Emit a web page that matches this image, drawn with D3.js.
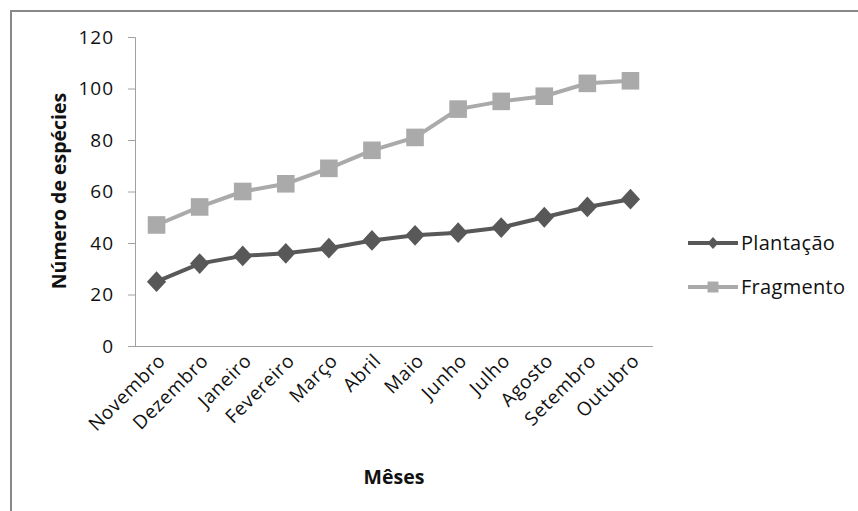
<!DOCTYPE html>
<html>
<head>
<meta charset="utf-8">
<script src="https://cdn.jsdelivr.net/npm/d3@7"></script>
<style>
  body { margin: 0; background: #fff; }
  text { font-family: "Open Sans", sans-serif; fill: #111; }
</style>
</head>
<body>
<div id="chart"></div>
<script>
// months on the category axis
var meses = ["Novembro", "Dezembro", "Janeiro", "Fevereiro", "Março", "Abril",
             "Maio", "Junho", "Julho", "Agosto", "Setembro", "Outubro"];
// number of species per series
var plantacao = [25, 32, 35, 36, 38, 41, 43, 44, 46, 50, 54, 57];
var fragmento = [47, 54, 60, 63, 69, 76, 81, 92, 95, 97, 102, 103];
var yTicks = [0, 20, 40, 60, 80, 100, 120];

var width = 858, height = 511;
var margin = {left: 135, right: 206, top: 37, bottom: 165};

var svg = d3.select("#chart").append("svg")
    .attr("width", width)
    .attr("height", height);

// chart area border (only top and left are inside the picture)
svg.append("rect")
    .attr("x", 11).attr("y", 11)
    .attr("width", 900).attr("height", 600)
    .attr("fill", "none")
    .attr("stroke", "#888")
    .attr("stroke-width", 2);

var x = d3.scaleBand()
    .domain(meses)
    .range([margin.left, width - margin.right]);

var y = d3.scaleLinear()
    .domain([0, 120])
    .range([height - margin.bottom, margin.top]);

// diamond like the excel marker (square turned 45 degrees)
var diamond = {
  draw: function(context, size) {
    var r = Math.sqrt(size / 2);
    context.moveTo(0, -r * 1.08);
    context.lineTo(r, 0);
    context.lineTo(0, r * 1.08);
    context.lineTo(-r, 0);
    context.closePath();
  }
};

// y axis
var yAxis = svg.append("g")
    .attr("transform", "translate(" + margin.left + ",0)")
    .call(d3.axisLeft(y).tickValues(yTicks).tickSize(7).tickPadding(14));
yAxis.select(".domain").attr("stroke", "#a0a0a0");
yAxis.selectAll(".tick line").attr("stroke", "#a0a0a0");
yAxis.selectAll(".tick text")
    .style("font-size", "19px")
    .style("letter-spacing", "1px")
    .attr("fill", "#111");

// x axis
var xAxis = svg.append("g")
    .attr("transform", "translate(0," + y(0) + ")")
    .call(d3.axisBottom(x).tickSize(0).tickSizeOuter(0));
xAxis.select(".domain").attr("stroke", "#a0a0a0")
    .attr("d", "M" + (margin.left - 7) + ",0.5H" + (width - margin.right + 1));
xAxis.selectAll(".tick text")
    .style("font-size", "19px")
    .style("letter-spacing", "0.6px")
    .attr("fill", "#111")
    .attr("text-anchor", "end")
    .attr("dy", 0)
    .attr("y", 0)
    .attr("transform", "translate(10,16) rotate(-45)");

// lines
var series = [
  {name: "Plantação", values: plantacao, color: "#585858", shape: diamond},
  {name: "Fragmento", values: fragmento, color: "#aaaaaa", shape: d3.symbolSquare}
];

var line = d3.line()
    .x(function(d, i) { return x(meses[i]) + x.bandwidth() / 2; })
    .y(function(d) { return y(d); });

series.slice().reverse().forEach(function(s) {
  svg.append("path")
      .datum(s.values)
      .attr("d", line)
      .attr("fill", "none")
      .attr("stroke", s.color)
      .attr("stroke-width", 4);

  svg.selectAll(null)
      .data(s.values)
      .enter().append("path")
      .attr("d", d3.symbol().type(s.shape).size(s.shape === diamond ? 185 : 310))
      .attr("transform", function(d, i) {
        return "translate(" + (x(meses[i]) + x.bandwidth() / 2) + "," + y(d) + ")";
      })
      .attr("fill", s.color);
});

// axis titles
svg.append("text")
    .attr("transform", "translate(66,191) rotate(-90)")
    .attr("text-anchor", "middle")
    .style("font-size", "19.5px")
    .style("font-weight", "bold")
    .text("Número de espécies");

svg.append("text")
    .attr("x", 394).attr("y", 484)
    .attr("text-anchor", "middle")
    .style("font-size", "19.5px")
    .style("font-weight", "bold")
    .text("Mêses");

// legend
var legend = svg.append("g");
series.forEach(function(s, i) {
  var ly = 243 + i * 44;
  legend.append("line")
      .attr("x1", 688).attr("x2", 738)
      .attr("y1", ly).attr("y2", ly)
      .attr("stroke", s.color)
      .attr("stroke-width", 4);
  legend.append("path")
      .attr("d", d3.symbol().type(s.shape).size(s.shape === diamond ? 60 : 120))
      .attr("transform", "translate(713," + ly + ")")
      .attr("fill", s.color);
  legend.append("text")
      .attr("x", 741).attr("y", ly + 7)
      .style("font-size", "20px")
      .style("letter-spacing", "0.3px")
      .text(s.name);
});
</script>
</body>
</html>
